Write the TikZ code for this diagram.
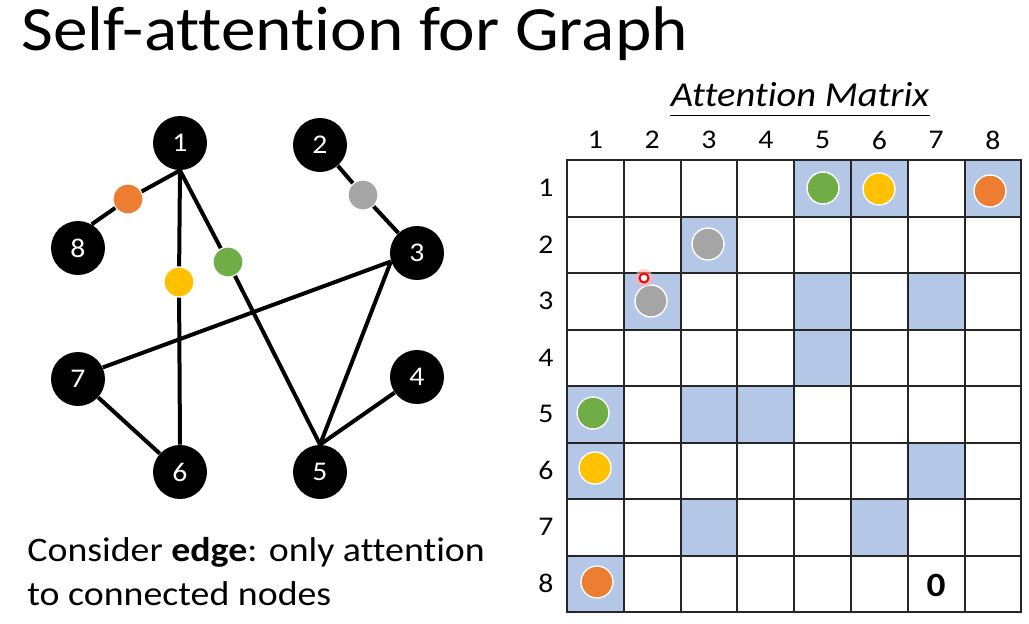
\documentclass[tikz,border=0pt]{standalone}
\usepackage{fontspec}
\setmainfont{Carlito}[FakeStretch=1.1, Ligatures=NoCommon]
\definecolor{cellblue}{HTML}{B4C7E7}
\definecolor{dotgreen}{HTML}{70AD47}
\definecolor{dotyellow}{HTML}{FFC000}
\definecolor{dotorange}{HTML}{ED7D31}
\definecolor{dotgray}{HTML}{A5A5A5}
\tikzset{
  vtx/.style={circle, fill=black, text=white, minimum size=27pt, inner sep=0pt,
    font=\fontsize{13.5}{16}\selectfont},
  edot/.style={circle, draw=white, line width=0.6pt, minimum size=15pt, inner sep=0pt},
  mdot/.style={circle, draw=white, line width=0.7pt, minimum size=16pt, inner sep=0pt},
  gedge/.style={line width=2pt},
  gridline/.style={line width=1pt, draw=black!85, line cap=rect},
  lbl/.style={font=\fontsize{13.5}{16}\selectfont, inner sep=0pt}
}
\begin{document}
\begin{tikzpicture}[x=0.5pt,y=-0.5pt]
\useasboundingbox (0,0) rectangle (1029,623);
\fill[white] (0,0) rectangle (1029,623);

% title
\node[anchor=base west, inner sep=0pt, font=\fontsize{31.5}{36}\selectfont] (title) at (21,50) {Self-attention for Graph};

% graph
\node[vtx] (1) at (180,143) {1};
\node[vtx] (2) at (320,145) {2};
\node[vtx] (3) at (417,253) {3};
\node[vtx] (4) at (417,377) {4};
\node[vtx] (5) at (320,472) {5};
\node[vtx] (6) at (180,472) {6};
\node[vtx] (7) at (78,379) {7};
\node[vtx] (8) at (78,248) {8};

\node[edot, fill=dotorange] (e18) at (128,199) {};
\node[edot, fill=dotyellow] (e16) at (179,282) {};
\node[edot, fill=dotgreen] (e15) at (228,262) {};
\node[edot, fill=dotgray] (e23) at (363,195) {};

\path[draw,gedge] (1.south) -- (e18) -- (8.60);
\path[draw,gedge] (1.south) -- (e16) -- (6.north);
\path[draw,gedge] (1.south) -- (e15) -- (5.north);
\path[draw,gedge] (2) -- (e23) -- (3);
\path[draw,gedge] (3.198) -- (7.25);
\path[draw,gedge] (3.198) -- (5.north);
\path[draw,gedge] (4) -- (5.north);
\path[draw,gedge] (7) -- (6);

\node[anchor=base west, inner sep=0pt, align=left,
  font=\fontsize{17.2}{22}\selectfont] (note) at (27,605)
  {Consider \textbf{edge}: only attention\\to connected nodes};

% attention matrix
\node[inner sep=0pt, font=\fontsize{17.5}{20}\itshape] (am) at (800,95) {Attention Matrix};
\draw[line width=0.6pt] ([yshift=-4pt]am.south west) -- ([yshift=-4pt]am.south east);

\foreach \r/\c in {1/5,1/6,1/8,2/3,3/2,3/5,3/7,4/5,5/1,5/3,5/4,6/1,6/7,7/3,7/6,8/1}
  \fill[cellblue] ({567+(\c-1)*56.8},{160+(\r-1)*56.5}) rectangle +(56.8,56.5);

\foreach \i in {0,...,8} {
  \draw[gridline] ({567+\i*56.8},160) -- ({567+\i*56.8},612);
  \draw[gridline] (567,{160+\i*56.5}) -- (1021.4,{160+\i*56.5});
}

\foreach \i in {1,...,8} {
  \node[lbl] (c\i) at ({567+(\i-0.5)*56.8},140) {\i};
  \node[lbl] (r\i) at (546,{160+(\i-0.5)*56.5}) {\i};
}

\node[mdot, fill=dotgreen] (m15) at (823,188) {};
\node[mdot, fill=dotyellow] (m16) at (879,189) {};
\node[mdot, fill=dotorange] (m18) at (990,191) {};
\node[mdot, fill=dotgray] (m23) at (708,244) {};
\node[mdot, fill=dotgray] (m32) at (651,301) {};
\node[mdot, fill=dotgreen] (m51) at (593,413) {};
\node[mdot, fill=dotyellow] (m61) at (595,468) {};
\node[mdot, fill=dotorange] (m81) at (597,582) {};

\node[inner sep=0pt, font=\fontsize{17}{20}\bfseries] (zero) at (936,585) {0};

% pointer
\node[circle, fill=red!30, opacity=0.6, minimum size=9pt, inner sep=0pt] (glow) at (644,278) {};
\node[circle, draw=red, fill=white, line width=1pt, minimum size=4.5pt, inner sep=0pt] (ptr) at (644,278) {};
\end{tikzpicture}
\end{document}
